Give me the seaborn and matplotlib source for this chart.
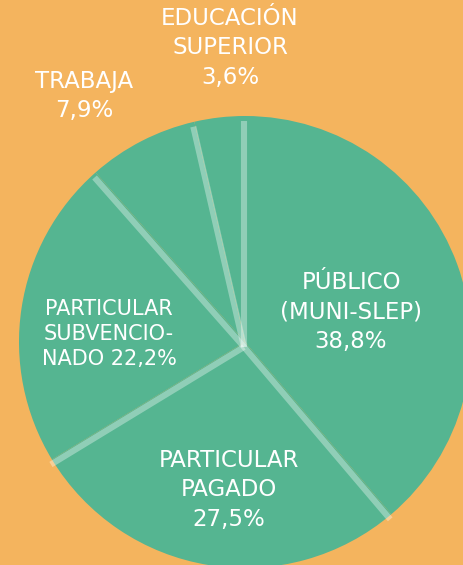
import numpy as np
import matplotlib
matplotlib.use("Agg")
import matplotlib.pyplot as plt
import seaborn as sns

categories = ["PÚBLICO\n(MUNI-SLEP)", "PARTICULAR\nPAGADO", "PARTICULAR\nSUBVENCIO-\nNADO", "TRABAJA", "EDUCACIÓN\nSUPERIOR"]
values = [38.8, 27.5, 22.2, 7.9, 3.6]
labels = ["PÚBLICO\n(MUNI-SLEP)\n38,8%", "PARTICULAR\nPAGADO\n27,5%",
          "PARTICULAR\nSUBVENCIO-\nNADO 22,2%", "TRABAJA\n7,9%", "EDUCACIÓN\nSUPERIOR\n3,6%"]

sns.set_theme(style="white")
plt.rcParams['font.family'] = ['DejaVu Sans']

BG = "#F4B45E"
GREEN = "#55B591"

W, H = 463, 565
fig = plt.figure(figsize=(W / 100, H / 100), dpi=100, facecolor=BG)
ax = fig.add_axes([0, 0, 1, 1])
ax.set_facecolor(BG)

cx, cy, r = 245, H - 342, 226
ax.pie(values, colors=[GREEN] * len(values), startangle=90, counterclock=False,
       center=(cx, cy), radius=r, wedgeprops=dict(linewidth=0), frame=True)
ax.set_xlim(0, W)
ax.set_ylim(0, H)
ax.set_aspect('equal')
ax.axis('off')

# separator lines from the hub
hx, hy, L = 244, H - 347, 226
cum = np.concatenate([[0], np.cumsum(values)]) / sum(values)
for f in cum[:-1]:
    ang = np.deg2rad(90 - 360 * f)
    ax.plot([hx, hx + L * np.cos(ang)], [hy, hy + L * np.sin(ang)],
            color="white", alpha=0.35, lw=4.4, solid_capstyle='butt')

# label positions (pixel coords, top-left origin)
pos = [(351, 312), (229, 490), (109, 334), (84, 96), (230, 48)]
sizes = [16.5, 16.5, 15, 16.5, 16.5]
spacing = [1.37, 1.37, 1.34, 1.37, 1.37]
for lab, (x, y), fs, ls in zip(labels, pos, sizes, spacing):
    ax.text(x, H - y, lab, ha='center', va='center', color='white',
            fontsize=fs, linespacing=ls, multialignment='center')

fig.savefig("out.png", dpi=100, facecolor=BG)
